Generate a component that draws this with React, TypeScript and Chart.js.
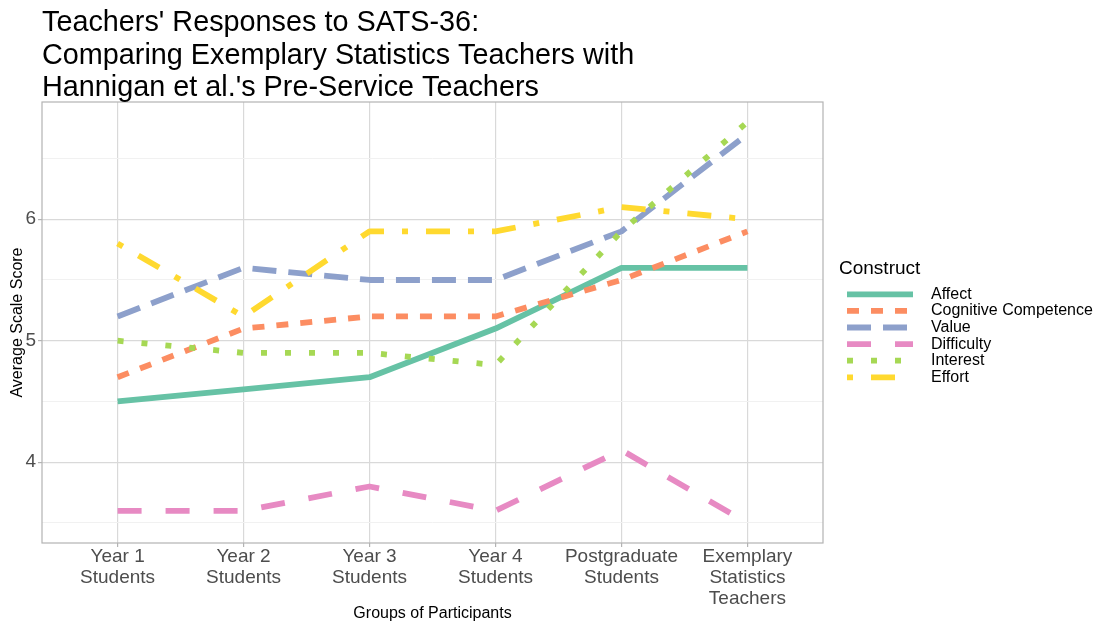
import React, { useEffect, useRef } from 'react';
import { Chart, registerables } from 'chart.js';

Chart.register(...registerables);

const FONT = '"Liberation Sans", Arial, Helvetica, sans-serif';

const titleLines = [
  "Teachers' Responses to SATS-36:",
  'Comparing Exemplary Statistics Teachers with',
  "Hannigan et al.'s Pre-Service Teachers",
];
const xTitle = 'Groups of Participants';
const yTitle = 'Average Scale Score';
const legendTitle = 'Construct';

const groups: string[][] = [
  ['Year 1', 'Students'],
  ['Year 2', 'Students'],
  ['Year 3', 'Students'],
  ['Year 4', 'Students'],
  ['Postgraduate', 'Students'],
  ['Exemplary', 'Statistics', 'Teachers'],
];
const constructs = ['Affect', 'Cognitive Competence', 'Value', 'Difficulty', 'Interest', 'Effort'];

const affect = [4.5, 4.6, 4.7, 5.1, 5.6, 5.6];
const cognitive = [4.7, 5.1, 5.2, 5.2, 5.5, 5.9];
const valueScores = [5.2, 5.6, 5.5, 5.5, 5.9, 6.7];
const difficulty = [3.6, 3.6, 3.8, 3.6, 4.1, 3.5];
const interest = [5.0, 4.9, 4.9, 4.8, 5.9, 6.8];
const effort = [5.8, 5.2, 5.9, 5.9, 6.1, 6.0];

const yTicks = [3.5, 4, 4.5, 5, 5.5, 6, 6.5];

const series = [affect, cognitive, valueScores, difficulty, interest, effort];
const colors = ['#66C2A5', '#FC8D62', '#8DA0CB', '#E78AC3', '#A6D854', '#FFD92F'];
const dashes: number[][] = [[], [12, 12], [24, 12], [24, 24], [6, 18], [6, 18, 24, 18]];

const allVals = series.flat();
const yLo = Math.min(...allVals);
const yHi = Math.max(...allVals);
const yPad = (yHi - yLo) * 0.05;

const LINE_W = 5.8;

const decorPlugin = {
  id: 'decor',
  afterDraw(chart: any) {
    const ctx = chart.ctx as CanvasRenderingContext2D;
    const a = chart.chartArea;
    ctx.save();
    // panel border
    ctx.strokeStyle = '#B3B3B3';
    ctx.lineWidth = 1.2;
    ctx.setLineDash([]);
    ctx.strokeRect(a.left, a.top, a.right - a.left, a.bottom - a.top);

    // title
    ctx.fillStyle = '#000000';
    ctx.font = `28.8px ${FONT}`;
    ctx.textAlign = 'left';
    ctx.textBaseline = 'alphabetic';
    const baselines = [31.2, 63.6, 96];
    titleLines.forEach((t, i) => ctx.fillText(t, 42, baselines[i]));

    // axis titles
    ctx.font = `16px ${FONT}`;
    ctx.textAlign = 'center';
    ctx.textBaseline = 'middle';
    ctx.fillText(xTitle, (a.left + a.right) / 2, 614);
    ctx.save();
    ctx.translate(17.5, (a.top + a.bottom) / 2);
    ctx.rotate(-Math.PI / 2);
    ctx.fillText(yTitle, 0, 0);
    ctx.restore();

    // legend
    ctx.textAlign = 'left';
    ctx.font = `19px ${FONT}`;
    ctx.fillText(legendTitle, 839, 269);
    ctx.font = `16px ${FONT}`;
    constructs.forEach((name, i) => {
      const y = 294.3 + i * 16.6;
      ctx.strokeStyle = colors[i];
      ctx.lineWidth = LINE_W;
      ctx.lineCap = 'butt';
      ctx.setLineDash(dashes[i]);
      ctx.lineDashOffset = 0;
      ctx.beginPath();
      ctx.moveTo(847, y);
      ctx.lineTo(913, y);
      ctx.stroke();
      ctx.setLineDash([]);
      ctx.fillStyle = '#000000';
      ctx.fillText(name, 931, y);
    });
    ctx.restore();
  },
};

export default function App() {
  const ref = useRef<HTMLCanvasElement | null>(null);
  useEffect(() => {
    if (!ref.current) return;
    const chart = new Chart(ref.current, {
      type: 'line',
      data: {
        datasets: series.map((vals, i) => ({
          label: constructs[i],
          data: vals.map((v, j) => ({ x: j, y: v })),
          borderColor: colors[i],
          backgroundColor: colors[i],
          borderWidth: LINE_W,
          borderDash: dashes[i],
          borderCapStyle: 'butt' as const,
          borderJoinStyle: 'round' as const,
          pointRadius: 0,
          pointHoverRadius: 0,
          tension: 0,
          fill: false,
          order: series.length - i,
        })),
      },
      options: {
        animation: false,
        responsive: false,
        devicePixelRatio: 1,
        events: [],
        layout: { padding: { top: 102, right: 276, bottom: 0, left: 0 } },
        plugins: {
          legend: { display: false },
          title: { display: false },
          tooltip: { enabled: false },
        },
        scales: {
          x: {
            type: 'linear',
            min: -0.6,
            max: groups.length - 1 + 0.6,
            afterBuildTicks: (scale: any) => {
              scale.ticks = groups.map((_, i) => ({ value: i }));
            },
            afterFit: (scale: any) => {
              scale.height = 79;
            },
            border: { display: false },
            grid: {
              color: '#D9D9D9',
              lineWidth: 1.2,
              drawTicks: true,
              tickLength: 4,
              tickColor: '#B3B3B3',
              tickWidth: 1.2,
            },
            ticks: {
              autoSkip: false,
              maxRotation: 0,
              minRotation: 0,
              padding: 0,
              color: '#4D4D4D',
              font: { family: FONT, size: 19, lineHeight: 1.08 },
              callback: (v: any) => groups[Math.round(Number(v))] ?? '',
            },
          },
          y: {
            type: 'linear',
            min: yLo - yPad,
            max: yHi + yPad,
            afterBuildTicks: (scale: any) => {
              scale.ticks = yTicks.map((v) => ({ value: v }));
            },
            afterFit: (scale: any) => {
              scale.width = 42;
            },
            border: { display: false },
            grid: {
              color: (c: any) => (Number.isInteger(c.tick?.value) ? '#D9D9D9' : '#F1F1F1'),
              lineWidth: (c: any) => (Number.isInteger(c.tick?.value) ? 1.2 : 1),
              drawTicks: true,
              tickLength: 4,
              tickColor: (c: any) => (Number.isInteger(c.tick?.value) ? '#B3B3B3' : 'rgba(0,0,0,0)'),
              tickWidth: 1.2,
            },
            ticks: {
              padding: 2,
              color: '#4D4D4D',
              font: { family: FONT, size: 19 },
              callback: (v: any) => (Number.isInteger(Number(v)) ? String(v) : ''),
            },
          },
        },
      },
      plugins: [decorPlugin],
    });
    return () => chart.destroy();
  }, []);

  return (
    <div style={{ position: 'fixed', left: 0, top: 0, width: 1099, height: 622, background: '#fff' }}>
      <canvas ref={ref} width={1099} height={622} style={{ width: 1099, height: 622, display: 'block' }} />
    </div>
  );
}
